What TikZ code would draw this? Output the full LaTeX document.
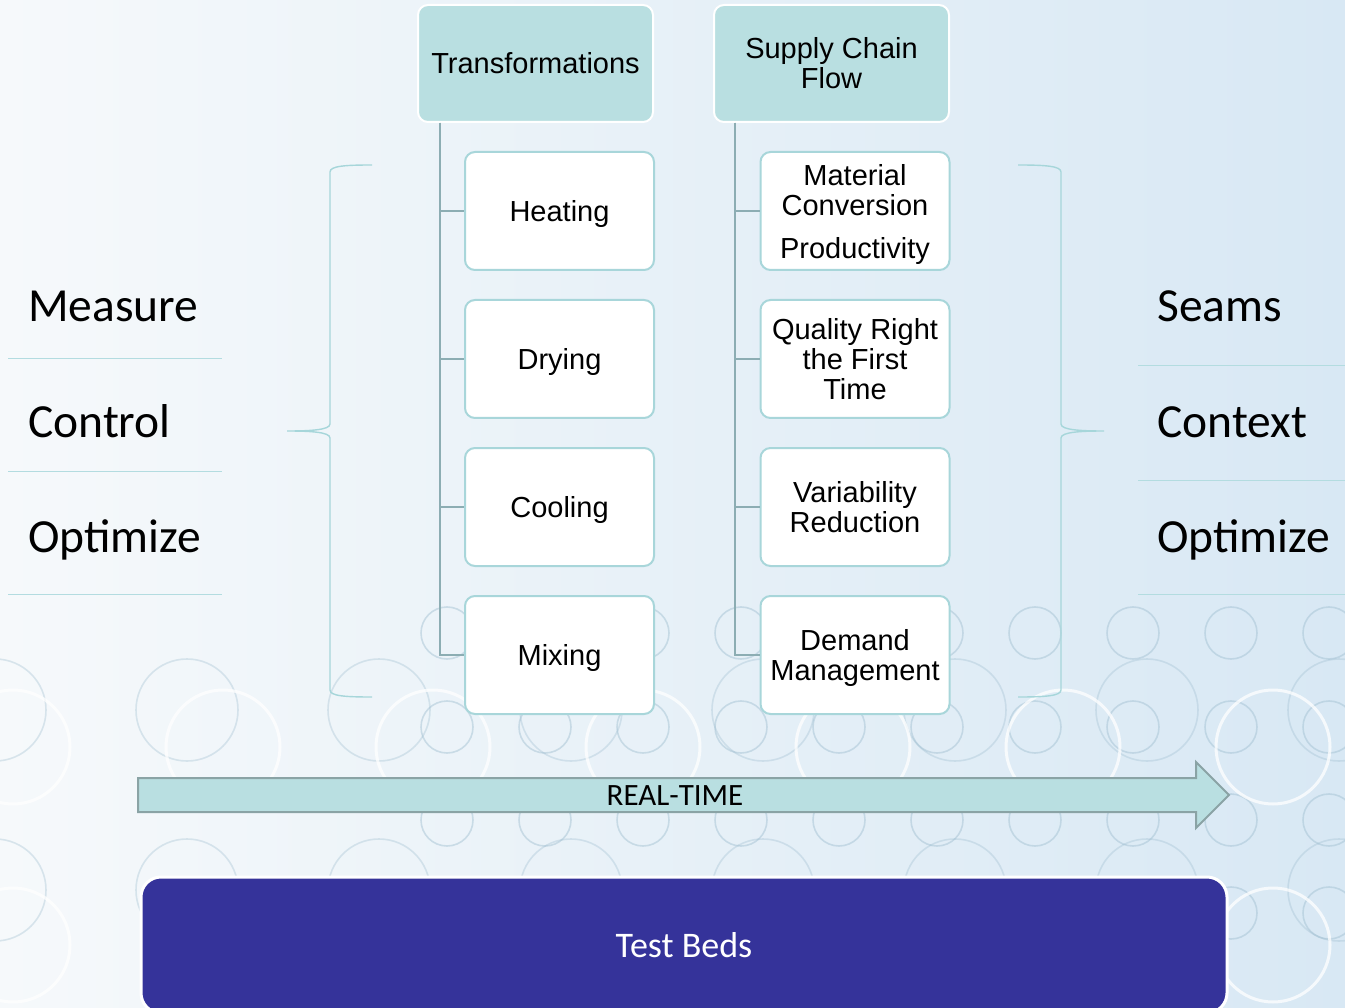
\documentclass[tikz,border=0pt]{standalone}
\usepackage{fontspec}
\setmainfont{Liberation Sans}
\newfontfamily\calfont{Carlito}
\usetikzlibrary{calc}
\definecolor{bgL}{HTML}{F6F9FB}
\definecolor{bgR}{HTML}{D8E8F4}
\definecolor{hdr}{HTML}{B9DFE1}
\definecolor{kid}{HTML}{A8D6DA}
\definecolor{conn}{HTML}{8CADB3}
\definecolor{brc}{HTML}{A6D6DA}
\definecolor{tbc}{HTML}{35339A}
\definecolor{arrE}{HTML}{8AA3A5}
\definecolor{circ}{HTML}{9FBED0}
\tikzset{
  hdrbox/.style={draw=white, line width=2pt, fill=hdr, rounded corners=10pt,
    minimum width=235pt, minimum height=117pt, inner sep=0pt, align=center,
    font=\fontsize{29}{30}\selectfont},
  kidbox/.style={draw=kid, line width=2pt, fill=white, rounded corners=10pt,
    minimum width=189pt, minimum height=118pt, inner sep=0pt, align=center,
    text depth=0pt, font=\fontsize{29}{30}\selectfont},
  connline/.style={draw=conn, line width=2.5pt},
  bracepath/.style={draw=brc, line width=1.4pt},
  sidelabel/.style={anchor=base west, inner sep=0pt, font=\calfont\fontsize{47.5}{50}\selectfont},
  sepline/.style={draw=brc!85, line width=1pt},
  smallc/.style={draw=circ, line width=1.6pt, opacity=0.45},
  bigc/.style={draw=circ, line width=1.6pt, opacity=0.35},
  whitec/.style={draw=white, line width=3pt, opacity=0.75},
  tbbox/.style={draw=white, line width=3pt, fill=tbc, rounded corners=20pt,
    minimum width=1086pt, minimum height=136pt, inner sep=0pt,
    text=white, font=\calfont\fontsize{36}{40}\selectfont},
  arrowbody/.style={fill=hdr, draw=arrE, line width=2pt, line join=miter}
}
\begin{document}
\begin{tikzpicture}[x=1pt,y=-1pt]
\useasboundingbox (0,0) rectangle (1345,1008);
\shade[left color=bgL, right color=bgR] (0,0) rectangle (1345,1008);
% decorative background circles
\begin{scope}
\clip (0,0) rectangle (1345,1008);
\foreach \y in {710,890}{
  \foreach \x in {-5,187,379,571,763,955,1147,1339}{
    \draw[bigc] (\x,\y) circle[radius=51pt];
  }
}
\foreach \y in {633,727,820,913}{
  \foreach \x in {447,545,...,1329}{
    \draw[smallc] (\x,\y) circle[radius=26pt];
  }
}
\foreach \y in {747,945}{
  \foreach \x in {13,223,...,1273}{
    \draw[whitec] (\x,\y) circle[radius=57pt];
  }
}
\end{scope}

% header boxes
\node[hdrbox] (tr) at (535.5,63.5) {Transformations};
\node[hdrbox] (sc) at (831.5,63.5) {Supply Chain\\Flow};

% child boxes
\node[kidbox] (h1) at (559.5,211) {Heating};
\node[kidbox] (h2) at (559.5,359) {Drying};
\node[kidbox] (h3) at (559.5,507) {Cooling};
\node[kidbox] (h4) at (559.5,655) {Mixing};
\node[kidbox] (s1) at (855,211) {Material\\Conversion\\[13pt]Productivity};
\node[kidbox] (s2) at (855,359) {Quality Right\\the First\\Time};
\node[kidbox] (s3) at (855,507) {Variability\\Reduction};
\node[kidbox] (s4) at (855,655) {Demand\\Management};

% connectors
\coordinate (tl) at ($(tr.south west)+(23,0)$);
\coordinate (sl) at ($(sc.south west)+(22,0)$);
\foreach \k in {h1,h2,h3,h4}{ \draw[connline] (tl) |- (\k.west); }
\foreach \k in {s1,s2,s3,s4}{ \draw[connline] (sl) |- (\k.west); }

% braces
\draw[bracepath] (372,165) .. controls (345,165) and (330,166) .. (330,172)
  -- (330,424) .. controls (330,430) and (310,431) .. (287,431)
  .. controls (310,431) and (330,432) .. (330,438)
  -- (330,690) .. controls (330,696) and (345,697) .. (372,697);
\draw[bracepath] (1018,165) .. controls (1045,165) and (1061,166) .. (1061,172)
  -- (1061,424) .. controls (1061,430) and (1081,431) .. (1104,431)
  .. controls (1081,431) and (1061,432) .. (1061,438)
  -- (1061,690) .. controls (1061,696) and (1045,697) .. (1018,697);

% side labels
\node[sidelabel] (m1) at (28,322) {Measure};
\node[sidelabel] (m2) at (28,437) {Control};
\node[sidelabel] (m3) at (28,552) {Optimize};
\draw[sepline] (8,359) -- (222,359);
\draw[sepline] (8,471) -- (222,471);
\draw[sepline] (8,594) -- (222,594);
\node[sidelabel] (r1) at (1157,322) {Seams};
\node[sidelabel] (r2) at (1157,437) {Context};
\node[sidelabel] (r3) at (1157,552) {Optimize};
\draw[sepline] (1138,366) -- (1345,366);
\draw[sepline] (1138,480) -- (1345,480);
\draw[sepline] (1138,594) -- (1345,594);

% real-time arrow
\draw[arrowbody] (138,778) -- (1196,778) -- (1196,762) -- (1229,795)
  -- (1196,828) -- (1196,812) -- (138,812) -- cycle;
\node[inner sep=0pt, font=\calfont\fontsize{31}{34}\selectfont] (rt) at (675,796) {REAL-TIME};

% test beds
\node[tbbox] (tb) at (684,945) {Test Beds};
\end{tikzpicture}
\end{document}
